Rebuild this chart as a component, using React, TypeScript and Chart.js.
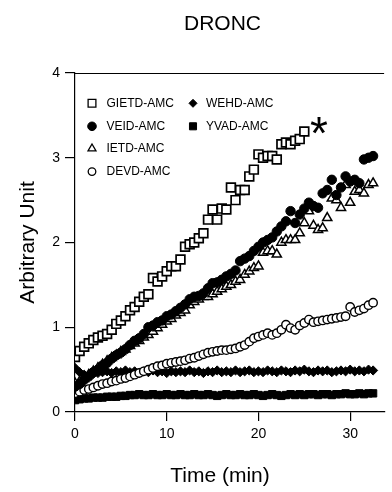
import React, { useEffect, useRef } from 'react';
import { Chart, registerables } from 'chart.js';
import { drawPoint } from 'chart.js/helpers';

Chart.register(...registerables);

const FONT = '"Liberation Sans", Arial, Helvetica, sans-serif';

// time points (min)
const times = [
  0, 0.5, 1, 1.5, 2, 2.5, 3, 3.5, 4, 4.5, 5, 5.5, 6, 6.5, 7, 7.5, 8, 8.5, 9, 9.5,
  10, 10.5, 11, 11.5, 12, 12.5, 13, 13.5, 14, 14.5, 15, 15.5, 16, 16.5, 17, 17.5, 18, 18.5, 19, 19.5,
  20, 20.5, 21, 21.5, 22, 22.5, 23, 23.5, 24, 24.5, 25, 25.5, 26, 26.5, 27, 27.5, 28, 28.5, 29, 29.5,
  30, 30.5, 31, 31.5, 32, 32.5,
];

const gietd = [
  0.65, 0.72, 0.77, 0.81, 0.85, 0.88, 0.9, 0.92, 0.97, 1.04, 1.08, 1.13, 1.2, 1.24, 1.3, 1.36, 1.39, 1.58, 1.54, 1.6,
  1.66, 1.72, 1.72, 1.8, 1.95, 1.98, 2.0, 2.05, 2.11, 2.27, 2.39, 2.27, 2.4, 2.39, 2.65, 2.5, 2.62, 2.62, 2.78, 2.86,
  3.04, 3.0, 3.02, 3.02, 2.98, 3.16, 3.18, 3.16, 3.2, 3.22, 3.31,
];

const veid = [
  0.3, 0.33, 0.38, 0.42, 0.47, 0.5, 0.55, 0.58, 0.63, 0.67, 0.7, 0.74, 0.79, 0.84, 0.87, 0.92, 1.0, 1.02, 1.06, 1.08,
  1.13, 1.15, 1.19, 1.23, 1.27, 1.33, 1.36, 1.37, 1.4, 1.46, 1.52, 1.53, 1.56, 1.6, 1.63, 1.67, 1.78, 1.81, 1.84, 1.9,
  1.95, 2.0, 2.03, 2.06, 2.13, 2.19, 2.25, 2.37, 2.23, 2.33, 2.4, 2.47, 2.43, 2.41, 2.58, 2.62, 2.74, 2.56, 2.65, 2.78,
  2.72, 2.74, 2.7, 2.98, 3.0, 3.02,
];

const ietd = [
  0.34, 0.36, 0.39, 0.44, 0.48, 0.52, 0.56, 0.6, 0.64, 0.67, 0.71, 0.74, 0.78, 0.81, 0.84, 0.88, 0.91, 0.95, 0.99, 1.03,
  1.07, 1.1, 1.14, 1.17, 1.2, 1.26, 1.3, 1.33, 1.36, 1.36, 1.39, 1.42, 1.45, 1.48, 1.5, 1.54, 1.56, 1.62, 1.66, 1.7,
  1.72, 1.88, 1.9, 1.9, 1.86, 2.0, 2.03, 2.03, 2.03, 2.11, 2.23, 2.37, 2.2, 2.15, 2.17, 2.29, 2.52, 2.5, 2.41, 2.68,
  2.47, 2.6, 2.62, 2.58, 2.68, 2.7,
];

const devd = [
  0.22, 0.24, 0.26, 0.27, 0.29, 0.31, 0.33, 0.34, 0.36, 0.37, 0.39, 0.4, 0.42, 0.44, 0.46, 0.48, 0.5, 0.52, 0.54, 0.55,
  0.57, 0.58, 0.59, 0.6, 0.61, 0.63, 0.64, 0.66, 0.68, 0.7, 0.71, 0.72, 0.73, 0.73, 0.74, 0.75, 0.77, 0.79, 0.83, 0.87,
  0.89, 0.91, 0.93, 0.91, 0.93, 0.97, 1.03, 0.99, 0.97, 1.02, 1.05, 1.09, 1.06, 1.07, 1.08, 1.09, 1.1, 1.11, 1.12, 1.13,
  1.24, 1.18, 1.2, 1.22, 1.26, 1.29,
];

const wehd = [
  0.52, 0.47, 0.44, 0.43, 0.45, 0.46, 0.47, 0.48, 0.46, 0.48, 0.47, 0.49, 0.47, 0.48, 0.46, 0.48, 0.47, 0.49, 0.47, 0.48,
  0.46, 0.48, 0.47, 0.48, 0.47, 0.49, 0.47, 0.48, 0.46, 0.48, 0.47, 0.49, 0.47, 0.48, 0.47, 0.49, 0.47, 0.48, 0.49, 0.47,
  0.48, 0.47, 0.49, 0.48, 0.47, 0.49, 0.48, 0.47, 0.49, 0.48, 0.5, 0.48, 0.47, 0.49, 0.48, 0.49, 0.47, 0.48, 0.49, 0.48,
  0.5, 0.48, 0.49, 0.48, 0.5, 0.49,
];

const yvad = [
  0.14, 0.15, 0.16, 0.16, 0.17, 0.17, 0.17, 0.18, 0.18, 0.18, 0.19, 0.19, 0.2, 0.2, 0.21, 0.2, 0.2, 0.21, 0.2, 0.2,
  0.21, 0.2, 0.2, 0.21, 0.2, 0.2, 0.21, 0.2, 0.2, 0.21, 0.2, 0.19, 0.2, 0.21, 0.2, 0.2, 0.21, 0.2, 0.2, 0.21,
  0.2, 0.19, 0.2, 0.21, 0.2, 0.19, 0.2, 0.21, 0.2, 0.21, 0.2, 0.21, 0.21, 0.2, 0.21, 0.21, 0.2, 0.21, 0.21, 0.22,
  0.21, 0.21, 0.22, 0.21, 0.22, 0.22,
];

// asterisk annotation
const starTime = [26.6];
const starValue = [3.42];

const seriesLabels = ['GIETD-AMC', 'VEID-AMC', 'IETD-AMC', 'DEVD-AMC', 'WEHD-AMC', 'YVAD-AMC'];
const xTicks = [0, 10, 20, 30];
const yTicks = [0, 1, 2, 3, 4];

const chartTitle = 'DRONC';
const xTitle = 'Time (min)';
const yTitle = 'Arbitrary Unit';

type Style = { pointStyle: string; radius: number; fill: string; borderWidth: number };

const styles: Style[] = [
  { pointStyle: 'rect', radius: 6.2, fill: '#ffffff', borderWidth: 1.7 },
  { pointStyle: 'circle', radius: 4.7, fill: '#000000', borderWidth: 1 },
  { pointStyle: 'triangle', radius: 5.3, fill: '#ffffff', borderWidth: 1.5 },
  { pointStyle: 'circle', radius: 4.2, fill: '#ffffff', borderWidth: 1.4 },
  { pointStyle: 'rectRot', radius: 4.6, fill: '#000000', borderWidth: 1 },
  { pointStyle: 'rect', radius: 5.2, fill: '#000000', borderWidth: 1 },
];

const legendStyles: Style[] = [
  { pointStyle: 'rect', radius: 5.5, fill: '#ffffff', borderWidth: 1.3 },
  { pointStyle: 'circle', radius: 4.3, fill: '#000000', borderWidth: 1 },
  { pointStyle: 'triangle', radius: 4.6, fill: '#ffffff', borderWidth: 1.3 },
  { pointStyle: 'circle', radius: 3.8, fill: '#ffffff', borderWidth: 1.3 },
  { pointStyle: 'rectRot', radius: 4.0, fill: '#000000', borderWidth: 1 },
  { pointStyle: 'rect', radius: 5.0, fill: '#000000', borderWidth: 1 },
];

const seriesValues = [gietd, veid, ietd, devd, wehd, yvad];

const decorPlugin = {
  id: 'decor',
  afterDraw(chart: any) {
    const { ctx, chartArea, scales } = chart;
    ctx.save();
    // top frame line
    ctx.strokeStyle = '#000';
    ctx.lineWidth = 1.2;
    ctx.beginPath();
    ctx.moveTo(chartArea.left, chartArea.top + 0.5);
    ctx.lineTo(chartArea.right, chartArea.top + 0.5);
    ctx.stroke();

    // titles
    ctx.fillStyle = '#000';
    ctx.textAlign = 'center';
    ctx.textBaseline = 'alphabetic';
    ctx.font = `21px ${FONT}`;
    ctx.fillText(chartTitle, 222.5, 30);
    ctx.fillText(xTitle, 220, 482);

    // legend
    const col1Marker = 92;
    const col1Text = 106.5;
    const col2Marker = 193;
    const col2Text = 206;
    const rows = [103.3, 126.3, 148.6, 171.6];
    const pos = [
      [col1Marker, col1Text, rows[0]],
      [col1Marker, col1Text, rows[1]],
      [col1Marker, col1Text, rows[2]],
      [col1Marker, col1Text, rows[3]],
      [col2Marker, col2Text, rows[0]],
      [col2Marker, col2Text, rows[1]],
    ];
    ctx.font = `12px ${FONT}`;
    ctx.textAlign = 'left';
    ctx.textBaseline = 'middle';
    seriesLabels.forEach((label, i) => {
      const [mx, tx, y] = pos[i];
      const st = legendStyles[i];
      ctx.fillStyle = st.fill;
      ctx.strokeStyle = '#000';
      ctx.lineWidth = st.borderWidth;
      drawPoint(ctx, { pointStyle: st.pointStyle as any, radius: st.radius, rotation: 0, borderWidth: st.borderWidth }, mx, y);
      ctx.fillStyle = '#000';
      ctx.fillText(label, tx, y + 0.5);
    });

    // asterisk
    ctx.font = `46px ${FONT}`;
    ctx.textAlign = 'center';
    ctx.textBaseline = 'alphabetic';
    ctx.fillStyle = '#000';
    starTime.forEach((t, i) => {
      const px = scales.x.getPixelForValue(t);
      const py = scales.y.getPixelForValue(starValue[i]);
      ctx.fillText('*', px, py + 26.5);
    });
    ctx.restore();
  },
};

export default function App() {
  const ref = useRef<HTMLCanvasElement>(null);

  useEffect(() => {
    if (!ref.current) return;
    const toPts = (vals: number[]) => vals.map((v, i) => ({ x: times[i], y: v }));
    const datasets = seriesValues.map((vals, i) => ({
      label: seriesLabels[i],
      data: toPts(vals),
      showLine: false,
      pointStyle: styles[i].pointStyle as any,
      pointRadius: styles[i].radius,
      pointBackgroundColor: styles[i].fill,
      pointBorderColor: '#000000',
      pointBorderWidth: styles[i].borderWidth,
      pointHoverRadius: styles[i].radius,
    }));

    const chart = new Chart(ref.current, {
      type: 'scatter',
      data: { datasets },
      options: {
        responsive: false,
        animation: false,
        events: [],
        layout: { padding: { top: 73, left: 0, right: 0, bottom: 0 } },
        plugins: {
          legend: { display: false },
          tooltip: { enabled: false },
        },
        scales: {
          x: {
            type: 'linear',
            min: 0,
            max: 33.7,
            afterBuildTicks: (s: any) => {
              s.ticks = xTicks.map((v) => ({ value: v }));
            },
            afterFit: (s: any) => {
              s.height = 80;
            },
            grid: { display: true, drawOnChartArea: false, tickLength: 9, color: '#000', lineWidth: 1.2 },
            border: { display: true, color: '#000', width: 1.2 },
            ticks: { font: { family: FONT, size: 14 }, color: '#000', padding: 5, maxRotation: 0, autoSkip: false },
          },
          y: {
            type: 'linear',
            min: 0,
            max: 4,
            afterBuildTicks: (s: any) => {
              s.ticks = yTicks.map((v) => ({ value: v }));
            },
            afterFit: (s: any) => {
              s.width = 75;
            },
            grid: { display: true, drawOnChartArea: false, tickLength: 10, color: '#000', lineWidth: 1.2 },
            border: { display: true, color: '#000', width: 1.2 },
            ticks: { font: { family: FONT, size: 14 }, color: '#000', padding: 5, autoSkip: false },
            title: {
              display: true,
              text: yTitle,
              color: '#000',
              font: { family: FONT, size: 21 },
              padding: { top: 16, bottom: 0 },
            },
          },
        },
      },
      plugins: [decorPlugin],
    });
    return () => chart.destroy();
  }, []);

  return (
    <div style={{ position: 'fixed', left: 0, top: 0, width: 392, height: 492, background: '#fff', overflow: 'hidden' }}>
      <canvas ref={ref} width={392} height={492} style={{ display: 'block' }} />
    </div>
  );
}
